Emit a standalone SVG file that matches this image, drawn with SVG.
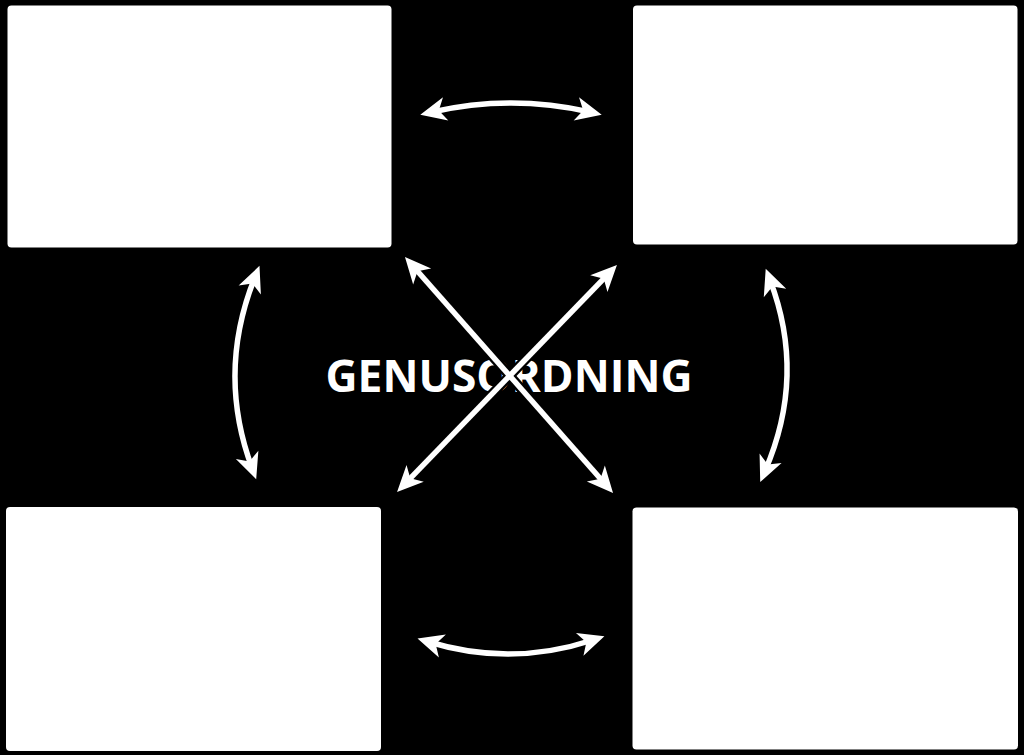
<svg xmlns="http://www.w3.org/2000/svg" width="1024" height="755" viewBox="0 0 1024 755">
  <style>
    .box { fill: #ffffff; }
    .conn { fill: none; stroke: #ffffff; stroke-width: 5.5; }
    .halo { fill: none; stroke: #000000; stroke-width: 10; }
    .title { font-family: "Open Sans", "Liberation Sans", sans-serif; font-weight: 700; font-size: 45px; fill: #ffffff; }
  </style>
  <defs>
    <marker id="head" viewBox="-16 -14 30 28" refX="0" refY="0" markerWidth="30" markerHeight="28" markerUnits="userSpaceOnUse" orient="auto-start-reverse">
      <path d="M12,0 L-14,-12 L-7,0 L-14,12 Z" fill="#ffffff"/>
    </marker>
  </defs>
  <rect width="1024" height="755" fill="#000000"/>

  <g id="box-top-left"><rect class="box" x="7.5" y="5.5" width="384" height="242" rx="4"/></g>
  <g id="box-top-right"><rect class="box" x="633" y="5.5" width="384.5" height="239" rx="4"/></g>
  <g id="box-bottom-left"><rect class="box" x="6" y="507" width="375" height="244" rx="4"/></g>
  <g id="box-bottom-right"><rect class="box" x="632.5" y="507.5" width="385.5" height="242" rx="4"/></g>

  <g id="center-label"><text class="title" x="509" y="392" text-anchor="middle" textLength="367" lengthAdjust="spacingAndGlyphs">GENUSORDNING</text></g>

  <g id="connectors">
    <path class="conn" d="M432,112 Q511,94 590,112" marker-start="url(#head)" marker-end="url(#head)"/>
    <path class="conn" d="M429,642 Q511,667 593,640" marker-start="url(#head)" marker-end="url(#head)"/>
    <path class="conn" d="M255,277 Q216.5,372.5 252,468" marker-start="url(#head)" marker-end="url(#head)"/>
    <path class="conn" d="M770,280 Q806.5,375.5 765,471" marker-start="url(#head)" marker-end="url(#head)"/>
    <line class="halo" x1="412.9" y1="266" x2="605.1" y2="484"/>
    <line class="halo" x1="608.6" y1="273.6" x2="405.4" y2="483.4"/>
    <line class="conn" x1="412.9" y1="266" x2="605.1" y2="484" marker-start="url(#head)" marker-end="url(#head)"/>
    <line class="conn" x1="608.6" y1="273.6" x2="405.4" y2="483.4" marker-start="url(#head)" marker-end="url(#head)"/>
  </g>
</svg>
